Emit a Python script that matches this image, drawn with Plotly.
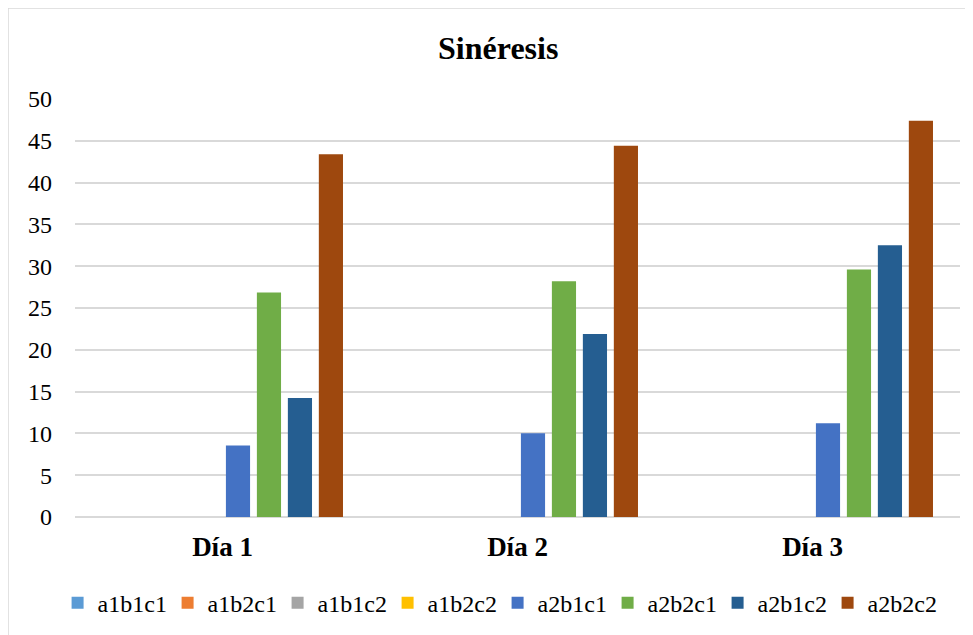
import plotly.graph_objects as go

categories = ["Día 1", "Día 2", "Día 3"]
series_names = ["a1b1c1", "a1b2c1", "a1b1c2", "a1b2c2", "a2b1c1", "a2b2c1", "a2b1c2", "a2b2c2"]
a1b1c1 = [0, 0, 0]
a1b2c1 = [0, 0, 0]
a1b1c2 = [0, 0, 0]
a1b2c2 = [0, 0, 0]
a2b1c1 = [8.55, 10.03, 11.2]
a2b2c1 = [26.86, 28.2, 29.6]
a2b1c2 = [14.23, 21.9, 32.5]
a2b2c2 = [43.4, 44.4, 47.4]
series_values = [a1b1c1, a1b2c1, a1b1c2, a1b2c2, a2b1c1, a2b2c1, a2b1c2, a2b2c2]
colors = ["#5B9BD5", "#ED7D31", "#A5A5A5", "#FFC000", "#4472C4", "#70AD47", "#255E91", "#9E480E"]
y_ticks = list(range(0, 51, 5))

font_family = "Liberation Serif"

fig = go.Figure()
for name, vals, col in zip(series_names, series_values, colors):
    fig.add_trace(go.Bar(name=name, x=categories, y=vals, marker=dict(color=col, line=dict(width=0))))

fig.update_layout(
    width=965, height=627,
    barmode="group", bargap=0.16, bargroupgap=0.22,
    paper_bgcolor="white", plot_bgcolor="white",
    margin=dict(l=67, r=13, t=91, b=118, autoexpand=False),
    title=dict(text="<b>Sinéresis</b>", x=0.508, xanchor="center", y=0.936, yanchor="middle",
               font=dict(family=font_family, size=32, color="black")),
    font=dict(family=font_family, size=24, color="black"),
    showlegend=True,
    legend=dict(orientation="h", x=0.4775, xanchor="center", y=-0.206, yanchor="middle",
                font=dict(family=font_family, size=24, color="black"),
                itemwidth=30, entrywidth=65, traceorder="normal"),
    shapes=[
        dict(type="line", xref="paper", yref="paper", x0=-0.0757, x1=1.02, y0=1.2177, y1=1.2177,
             line=dict(color="#d9d9d9", width=1.5)),
        dict(type="line", xref="paper", yref="paper", x0=-0.0757, x1=-0.0757, y0=1.2177, y1=-0.3,
             line=dict(color="#d9d9d9", width=1.5)),
    ],
)
fig.update_yaxes(range=[0, 50], tickvals=y_ticks, showgrid=True, gridcolor="#d9d9d9", gridwidth=1.5,
                 zeroline=True, zerolinecolor="#d9d9d9", zerolinewidth=1.5, showline=False,
                 automargin=False,
                 ticks="", ticklabelstandoff=22, tickfont=dict(size=24, family=font_family))
fig.update_xaxes(showgrid=False, showline=False, ticks="", ticklabelstandoff=11, automargin=False,
                 tickfont=dict(size=27, family=font_family),
                 tickvals=categories, ticktext=["<b>" + c + "</b>" for c in categories])

fig.write_html("out.html")
